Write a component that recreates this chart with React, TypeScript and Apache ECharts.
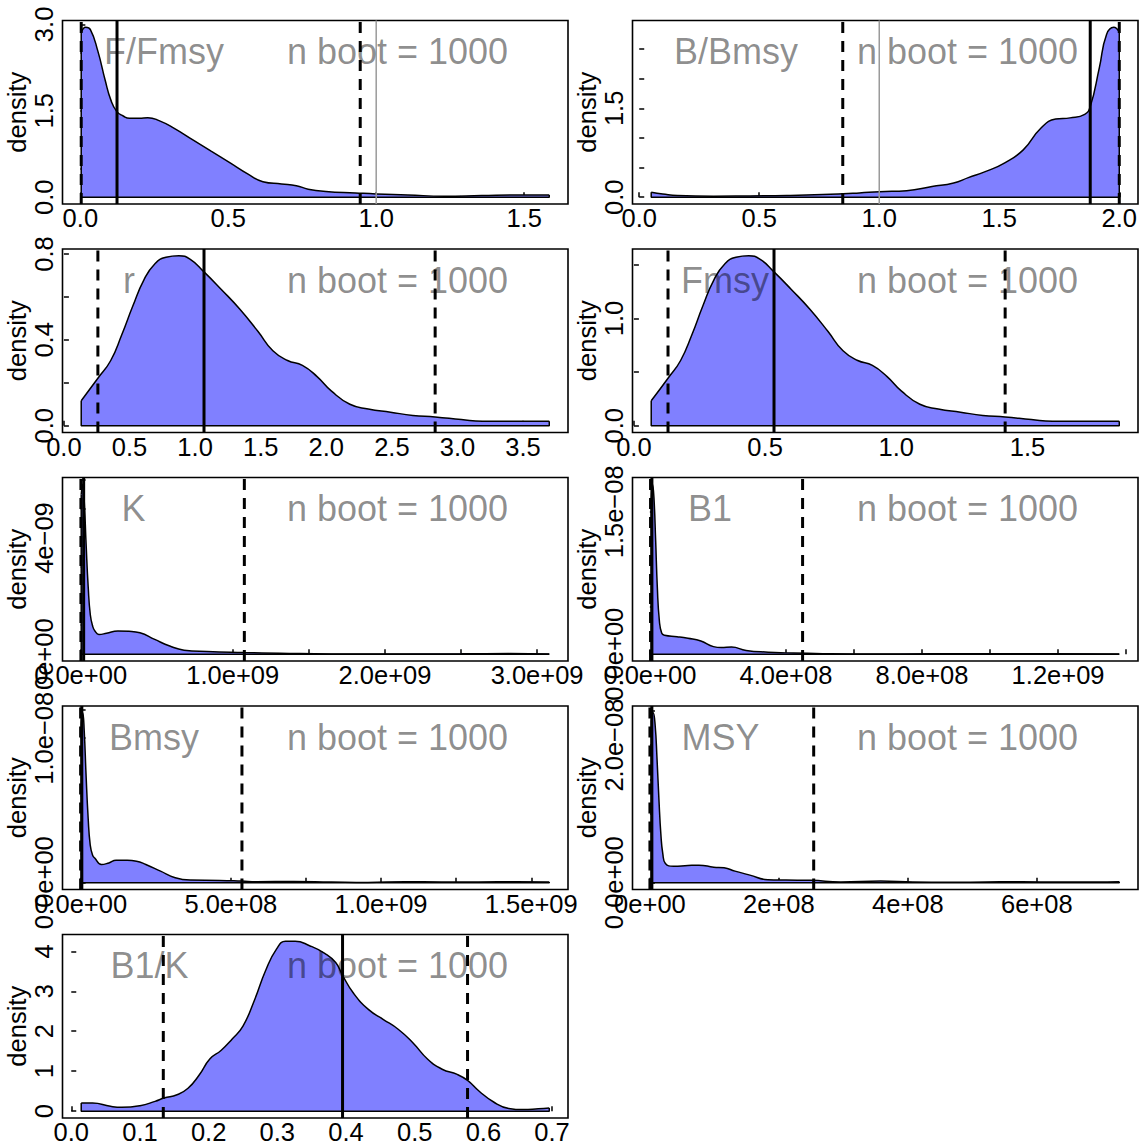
import React, { useEffect, useRef } from "react";
import * as echarts from "echarts";

const FONT = '"Liberation Sans", Arial, Helvetica, sans-serif';

// ---------- titles ----------
const panelNames = ["F/Fmsy", "B/Bmsy", "r", "Fmsy", "K", "B1", "Bmsy", "MSY", "B1/K"];
const bootLabel = "n boot = 1000";

// ---------- F/Fmsy ----------
const ffmsyX = [0.003, 0.018, 0.034, 0.059, 0.084, 0.103, 0.123, 0.145, 0.166, 0.2, 0.228, 0.266, 0.316, 0.379, 0.442, 0.505, 0.567, 0.617, 0.68, 0.73, 0.77, 0.83, 0.93, 1.0, 1.107, 1.23, 1.357, 1.48, 1.585];
const ffmsyY = [2.86, 2.95, 2.91, 2.54, 2.03, 1.69, 1.49, 1.41, 1.37, 1.37, 1.38, 1.33, 1.2, 1.0, 0.8, 0.6, 0.4, 0.27, 0.23, 0.2, 0.14, 0.1, 0.074, 0.057, 0.04, 0.017, 0.03, 0.04, 0.04];
const ffmsySolid = [0.124];
const ffmsyDashed = [0.003, 0.946];
const ffmsyRef = [1.0];
const ffmsyXTicks = [0, 0.5, 1, 1.5];
const ffmsyXLabVals = [0, 0.5, 1, 1.5];
const ffmsyXLabTexts = ["0.0", "0.5", "1.0", "1.5"];
const ffmsyYTicks = [0, 0.5, 1, 1.5, 2, 2.5, 3];
const ffmsyYLabVals = [0, 1.5, 3];
const ffmsyYLabTexts = ["0.0", "1.5", "3.0"];

// ---------- B/Bmsy ----------
const bbmsyX = [0.05, 0.098, 0.159, 0.31, 0.462, 0.614, 0.765, 0.917, 1.0, 1.114, 1.22, 1.31, 1.371, 1.447, 1.523, 1.6, 1.674, 1.735, 1.795, 1.856, 1.879, 1.917, 1.947, 1.977, 2.0];
const bbmsyY = [0.083, 0.055, 0.028, 0.017, 0.022, 0.028, 0.044, 0.072, 0.094, 0.11, 0.18, 0.24, 0.33, 0.44, 0.58, 0.8, 1.17, 1.32, 1.34, 1.4, 1.53, 2.19, 2.75, 2.87, 2.79];
const bbmsySolid = [1.879];
const bbmsyDashed = [0.848, 2.0];
const bbmsyRef = [1.0];
const bbmsyXTicks = [0, 0.5, 1, 1.5, 2];
const bbmsyXLabVals = [0, 0.5, 1, 1.5, 2];
const bbmsyXLabTexts = ["0.0", "0.5", "1.0", "1.5", "2.0"];
const bbmsyYTicks = [0, 0.5, 1, 1.5, 2, 2.5];
const bbmsyYLabVals = [0, 1.5];
const bbmsyYLabTexts = ["0.0", "1.5"];

// ---------- r ----------
const rX = [0.132, 0.259, 0.357, 0.441, 0.526, 0.61, 0.694, 0.778, 0.877, 0.961, 1.068, 1.2, 1.34, 1.48, 1.593, 1.705, 1.818, 1.93, 2.04, 2.18, 2.32, 2.49, 2.66, 2.83, 3.03, 3.19, 3.45, 3.7];
const rY = [0.116, 0.221, 0.304, 0.424, 0.559, 0.68, 0.755, 0.785, 0.792, 0.777, 0.717, 0.635, 0.544, 0.439, 0.349, 0.304, 0.281, 0.229, 0.161, 0.1, 0.078, 0.063, 0.048, 0.041, 0.029, 0.021, 0.021, 0.021];
const rSolid = [1.068];
const rDashed = [0.259, 2.83];
const rXTicks = [0, 0.5, 1, 1.5, 2, 2.5, 3, 3.5];
const rXLabVals = [0, 0.5, 1, 1.5, 2, 2.5, 3, 3.5];
const rXLabTexts = ["0.0", "0.5", "1.0", "1.5", "2.0", "2.5", "3.0", "3.5"];
const rYTicks = [0, 0.2, 0.4, 0.6, 0.8];
const rYLabVals = [0, 0.4, 0.8];
const rYLabTexts = ["0.0", "0.4", "0.8"];

// ---------- Fmsy ----------
const fmsyX = [0.066, 0.13, 0.178, 0.221, 0.263, 0.305, 0.347, 0.389, 0.438, 0.48, 0.534, 0.6, 0.67, 0.74, 0.797, 0.853, 0.909, 0.965, 1.02, 1.09, 1.16, 1.245, 1.33, 1.415, 1.515, 1.595, 1.725, 1.85];
const fmsyY = [0.232, 0.442, 0.608, 0.848, 1.118, 1.36, 1.51, 1.57, 1.584, 1.554, 1.434, 1.27, 1.088, 0.878, 0.698, 0.608, 0.562, 0.458, 0.322, 0.2, 0.156, 0.126, 0.096, 0.082, 0.058, 0.042, 0.042, 0.042];
const fmsySolid = [0.534];
const fmsyDashed = [0.13, 1.415];
const fmsyXTicks = [0, 0.5, 1, 1.5];
const fmsyXLabVals = [0, 0.5, 1, 1.5];
const fmsyXLabTexts = ["0.0", "0.5", "1.0", "1.5"];
const fmsyYTicks = [0, 0.5, 1, 1.5];
const fmsyYLabVals = [0, 1];
const fmsyYLabTexts = ["0.0", "1.0"];

// ---------- K ----------
const kX = [0.004e9, 0.014e9, 0.024e9, 0.036e9, 0.05e9, 0.064e9, 0.08e9, 0.094e9, 0.12e9, 0.17e9, 0.245e9, 0.318e9, 0.39e9, 0.487e9, 0.586e9, 0.68e9, 0.83e9, 1.07e9, 1.31e9, 1.65e9, 2.14e9, 2.5e9, 2.82e9, 3.08e9];
const kY = [5.5e-9, 5.85e-9, 5.25e-9, 3.8e-9, 2.3e-9, 1.35e-9, 0.95e-9, 0.8e-9, 0.68e-9, 0.72e-9, 0.8e-9, 0.79e-9, 0.74e-9, 0.51e-9, 0.28e-9, 0.14e-9, 0.09e-9, 0.057e-9, 0.034e-9, 0.011e-9, 0.011e-9, 0.012e-9, 0.02e-9, 0.01e-9];
const kSolid = [0.02e9];
const kDashed = [0.002e9, 1.076e9];
const kXTicks = [0, 0.5e9, 1e9, 1.5e9, 2e9, 2.5e9, 3e9];
const kXLabVals = [0, 1e9, 2e9, 3e9];
const kXLabTexts = ["0.0e+00", "1.0e+09", "2.0e+09", "3.0e+09"];
const kYTicks = [0, 1e-9, 2e-9, 3e-9, 4e-9, 5e-9, 6e-9];
const kYLabVals = [0, 4e-9];
const kYLabTexts = ["0e+00", "4e\u221209"];

// ---------- B1 ----------
const b1X = [0.04e8, 0.08e8, 0.12e8, 0.17e8, 0.22e8, 0.28e8, 0.35e8, 0.43e8, 0.8e8, 1.12e8, 1.5e8, 1.87e8, 2.1e8, 2.4e8, 2.83e8, 3.48e8, 4.0e8, 5.08e8, 6.68e8, 8.29e8, 10.4e8, 11.8e8, 13.8e8];
const b1Y = [1.6e-8, 1.79e-8, 1.65e-8, 1.2e-8, 0.7e-8, 0.35e-8, 0.22e-8, 0.2e-8, 0.185e-8, 0.168e-8, 0.14e-8, 0.08e-8, 0.07e-8, 0.075e-8, 0.04e-8, 0.021e-8, 0.014e-8, 0.006e-8, 0.002e-8, 0.004e-8, 0.004e-8, 0.006e-8, 0.003e-8];
const b1Solid = [0.06e8];
const b1Dashed = [0.02e8, 4.49e8];
const b1XTicks = [0, 2e8, 4e8, 6e8, 8e8, 10e8, 12e8, 14e8];
const b1XLabVals = [0, 4e8, 8e8, 12e8];
const b1XLabTexts = ["0.0e+00", "4.0e+08", "8.0e+08", "1.2e+09"];
const b1YTicks = [0, 0.5e-8, 1e-8, 1.5e-8];
const b1YLabVals = [0, 1.5e-8];
const b1YLabTexts = ["0.0e+00", "1.5e\u221208"];

// ---------- Bmsy ----------
const bmsyX = [0.02e8, 0.07e8, 0.12e8, 0.18e8, 0.25e8, 0.32e8, 0.4e8, 0.47e8, 0.69e8, 0.94e8, 1.18e8, 1.55e8, 1.86e8, 2.17e8, 2.66e8, 3.15e8, 3.65e8, 4.63e8, 5.37e8, 5.86e8, 7.09e8, 8.33e8, 9.56e8, 10.8e8, 12.0e8, 13.25e8, 14.5e8, 15.6e8];
const bmsyY = [1.1e-8, 1.176e-8, 1.05e-8, 0.75e-8, 0.45e-8, 0.26e-8, 0.19e-8, 0.171e-8, 0.126e-8, 0.137e-8, 0.155e-8, 0.155e-8, 0.149e-8, 0.126e-8, 0.08e-8, 0.034e-8, 0.018e-8, 0.016e-8, 0.011e-8, 0.007e-8, 0.009e-8, 0.005e-8, 0.002e-8, 0.007e-8, 0.005e-8, 0.005e-8, 0.007e-8, 0.005e-8];
const bmsySolid = [0.04e8];
const bmsyDashed = [0.0, 5.37e8];
const bmsyXTicks = [0, 2.5e8, 5e8, 7.5e8, 10e8, 12.5e8, 15e8];
const bmsyXLabVals = [0, 5e8, 10e8, 15e8];
const bmsyXLabTexts = ["0.0e+00", "5.0e+08", "1.0e+09", "1.5e+09"];
const bmsyYTicks = [0, 0.2e-8, 0.4e-8, 0.6e-8, 0.8e-8, 1.0e-8, 1.2e-8];
const bmsyYLabVals = [0, 1.0e-8];
const bmsyYLabTexts = ["0.0e+00", "1.0e\u221208"];

// ---------- MSY ----------
const msyX = [0.02e8, 0.05e8, 0.08e8, 0.11e8, 0.14e8, 0.17e8, 0.2e8, 0.24e8, 0.366e8, 0.59e8, 0.76e8, 0.99e8, 1.15e8, 1.32e8, 1.55e8, 1.83e8, 2.11e8, 2.5e8, 2.96e8, 3.58e8, 4.08e8, 4.65e8, 5.21e8, 5.77e8, 6.34e8, 6.9e8, 7.28e8];
const msyY = [2.35e-8, 2.47e-8, 2.3e-8, 1.8e-8, 1.2e-8, 0.7e-8, 0.42e-8, 0.28e-8, 0.24e-8, 0.25e-8, 0.255e-8, 0.226e-8, 0.216e-8, 0.168e-8, 0.11e-8, 0.043e-8, 0.038e-8, 0.034e-8, 0.01e-8, 0.024e-8, 0.01e-8, 0.005e-8, 0.01e-8, 0.014e-8, 0.01e-8, 0.01e-8, 0.014e-8];
const msySolid = [0.03e8];
const msyDashed = [0.0, 2.54e8];
const msyXTicks = [0, 2e8, 4e8, 6e8];
const msyXLabVals = [0, 2e8, 4e8, 6e8];
const msyXLabTexts = ["0e+00", "2e+08", "4e+08", "6e+08"];
const msyYTicks = [0, 0.5e-8, 1e-8, 1.5e-8, 2e-8, 2.5e-8];
const msyYLabVals = [0, 2e-8];
const msyYLabTexts = ["0.0e+00", "2.0e\u221208"];

// ---------- B1/K ----------
const b1kX = [0.0145, 0.031, 0.057, 0.0735, 0.1, 0.122, 0.135, 0.154, 0.17, 0.186, 0.202, 0.218, 0.234, 0.25, 0.267, 0.283, 0.299, 0.312, 0.326, 0.347, 0.369, 0.385, 0.395, 0.411, 0.433, 0.454, 0.476, 0.497, 0.519, 0.54, 0.562, 0.577, 0.594, 0.615, 0.637, 0.658, 0.68, 0.696];
const b1kY = [0.205, 0.205, 0.123, 0.098, 0.139, 0.246, 0.328, 0.41, 0.574, 0.9, 1.31, 1.52, 1.8, 2.13, 2.79, 3.52, 4.06, 4.25, 4.25, 4.14, 3.95, 3.72, 3.4, 2.95, 2.54, 2.3, 2.05, 1.72, 1.3, 1.05, 0.92, 0.77, 0.5, 0.23, 0.07, 0.04, 0.06, 0.08];
const b1kSolid = [0.395];
const b1kDashed = [0.134, 0.577];
const b1kXTicks = [0, 0.1, 0.2, 0.3, 0.4, 0.5, 0.6, 0.7];
const b1kXLabVals = [0, 0.1, 0.2, 0.3, 0.4, 0.5, 0.6, 0.7];
const b1kXLabTexts = ["0.0", "0.1", "0.2", "0.3", "0.4", "0.5", "0.6", "0.7"];
const b1kYTicks = [0, 1, 2, 3, 4];
const b1kYLabVals = [0, 1, 2, 3, 4];
const b1kYLabTexts = ["0", "1", "2", "3", "4"];

// ---------- layout (pixels) ----------
const COL_W = 570;
const ROW_H = 228.5;
const BOX_L = 62.5;
const BOX_T = 20.5;
const BOX_W = 505.5;
const BOX_H = 183.5;
const nameCenters = [101.5, 103.5, 66.5, 92.5, 71, 77.5, 91.5, 88, 87];
const BOOT_CENTER = 335;
const TEXT_MID = 31;

type Panel = {
  xs: number[]; ys: number[];
  solid: number[]; dashed: number[]; ref: number[];
  xTicks: number[]; xLabVals: number[]; xLabTexts: string[];
  yTicks: number[]; yLabVals: number[]; yLabTexts: string[];
};

const panels: Panel[] = [
  { xs: ffmsyX, ys: ffmsyY, solid: ffmsySolid, dashed: ffmsyDashed, ref: ffmsyRef, xTicks: ffmsyXTicks, xLabVals: ffmsyXLabVals, xLabTexts: ffmsyXLabTexts, yTicks: ffmsyYTicks, yLabVals: ffmsyYLabVals, yLabTexts: ffmsyYLabTexts },
  { xs: bbmsyX, ys: bbmsyY, solid: bbmsySolid, dashed: bbmsyDashed, ref: bbmsyRef, xTicks: bbmsyXTicks, xLabVals: bbmsyXLabVals, xLabTexts: bbmsyXLabTexts, yTicks: bbmsyYTicks, yLabVals: bbmsyYLabVals, yLabTexts: bbmsyYLabTexts },
  { xs: rX, ys: rY, solid: rSolid, dashed: rDashed, ref: [], xTicks: rXTicks, xLabVals: rXLabVals, xLabTexts: rXLabTexts, yTicks: rYTicks, yLabVals: rYLabVals, yLabTexts: rYLabTexts },
  { xs: fmsyX, ys: fmsyY, solid: fmsySolid, dashed: fmsyDashed, ref: [], xTicks: fmsyXTicks, xLabVals: fmsyXLabVals, xLabTexts: fmsyXLabTexts, yTicks: fmsyYTicks, yLabVals: fmsyYLabVals, yLabTexts: fmsyYLabTexts },
  { xs: kX, ys: kY, solid: kSolid, dashed: kDashed, ref: [], xTicks: kXTicks, xLabVals: kXLabVals, xLabTexts: kXLabTexts, yTicks: kYTicks, yLabVals: kYLabVals, yLabTexts: kYLabTexts },
  { xs: b1X, ys: b1Y, solid: b1Solid, dashed: b1Dashed, ref: [], xTicks: b1XTicks, xLabVals: b1XLabVals, xLabTexts: b1XLabTexts, yTicks: b1YTicks, yLabVals: b1YLabVals, yLabTexts: b1YLabTexts },
  { xs: bmsyX, ys: bmsyY, solid: bmsySolid, dashed: bmsyDashed, ref: [], xTicks: bmsyXTicks, xLabVals: bmsyXLabVals, xLabTexts: bmsyXLabTexts, yTicks: bmsyYTicks, yLabVals: bmsyYLabVals, yLabTexts: bmsyYLabTexts },
  { xs: msyX, ys: msyY, solid: msySolid, dashed: msyDashed, ref: [], xTicks: msyXTicks, xLabVals: msyXLabVals, xLabTexts: msyXLabTexts, yTicks: msyYTicks, yLabVals: msyYLabVals, yLabTexts: msyYLabTexts },
  { xs: b1kX, ys: b1kY, solid: b1kSolid, dashed: b1kDashed, ref: [], xTicks: b1kXTicks, xLabVals: b1kXLabVals, xLabTexts: b1kXLabTexts, yTicks: b1kYTicks, yLabVals: b1kYLabVals, yLabTexts: b1kYLabTexts },
];

function makeFormatter(vals: number[], texts: string[]) {
  const scale = Math.max(...vals.map((v) => Math.abs(v))) || 1;
  return (v: number) => {
    let best = -1;
    let bd = Infinity;
    vals.forEach((c, k) => {
      const d = Math.abs(c - v);
      if (d < bd) { bd = d; best = k; }
    });
    return best >= 0 && bd <= scale * 1e-6 ? texts[best] : "";
  };
}

function buildOption() {
  const grids: any[] = [];
  const xAxes: any[] = [];
  const yAxes: any[] = [];
  const series: any[] = [];
  const graphics: any[] = [];

  panels.forEach((p, i) => {
    const col = i % 2;
    const row = Math.floor(i / 2);
    const gl = col * COL_W + BOX_L;
    const gt = row * ROW_H + BOX_T;
    const xMinD = Math.min(...p.xs);
    const xMaxD = Math.max(...p.xs);
    const xr = xMaxD - xMinD;
    const xmin = xMinD - 0.04 * xr;
    const xmax = xMaxD + 0.04 * xr;
    const M = Math.max(...p.ys);
    const ymin = -0.04 * M;
    const ymax = 1.04 * M;

    grids.push({
      left: gl, top: gt, width: BOX_W, height: BOX_H, show: true,
      borderColor: "#000", borderWidth: 1.6, backgroundColor: "transparent",
      containLabel: false, outerBoundsMode: "none",
    });

    xAxes.push({
      type: "value", gridIndex: i, min: xmin, max: xmax,
      axisLine: { show: false }, splitLine: { show: false },
      axisTick: { show: true, inside: true, length: 5, lineStyle: { color: "#000", width: 1.5 }, customValues: p.xTicks },
      axisLabel: { show: true, customValues: p.xLabVals, formatter: makeFormatter(p.xLabVals, p.xLabTexts), color: "#000", fontSize: 25.5, fontFamily: FONT, margin: 1 },
    });
    yAxes.push({
      type: "value", gridIndex: i, min: ymin, max: ymax,
      name: "density", nameLocation: "middle", nameRotate: 90, nameGap: 28,
      nameTextStyle: { color: "#000", fontSize: 25.5, fontFamily: FONT },
      axisLine: { show: false }, splitLine: { show: false },
      axisTick: { show: true, inside: true, length: 5, lineStyle: { color: "#000", width: 1.5 }, customValues: p.yTicks },
      axisLabel: { show: true, rotate: 90, customValues: p.yLabVals, formatter: makeFormatter(p.yLabVals, p.yLabTexts), color: "#000", fontSize: 25.5, fontFamily: FONT, margin: 6 },
    });

    const curve = p.xs.map((x, k) => [x, p.ys[k]]);
    series.push({
      type: "line", xAxisIndex: i, yAxisIndex: i, data: curve, smooth: 0.5,
      showSymbol: false, symbol: "none", silent: true, z: 2,
      lineStyle: { color: "#000", width: 1.5 },
      areaStyle: { color: "#8080ff", opacity: 1 },
    });
    const n = p.xs.length;
    series.push({
      type: "line", xAxisIndex: i, yAxisIndex: i, showSymbol: false, symbol: "none", silent: true, z: 3,
      data: [[p.xs[0], p.ys[0]], [p.xs[0], 0], [p.xs[n - 1], 0], [p.xs[n - 1], p.ys[n - 1]]],
      lineStyle: { color: "#000", width: 1.5 },
    });
    p.ref.forEach((v) => {
      series.push({
        type: "line", xAxisIndex: i, yAxisIndex: i, showSymbol: false, symbol: "none", silent: true, z: 4,
        data: [[v, ymin], [v, ymax]], lineStyle: { color: "#9a9a9a", width: 1.5 },
      });
    });
    p.dashed.forEach((v) => {
      series.push({
        type: "line", xAxisIndex: i, yAxisIndex: i, showSymbol: false, symbol: "none", silent: true, z: 5,
        data: [[v, ymin], [v, ymax]], lineStyle: { color: "#000", width: 3, type: [11, 8] },
      });
    });
    p.solid.forEach((v) => {
      series.push({
        type: "line", xAxisIndex: i, yAxisIndex: i, showSymbol: false, symbol: "none", silent: true, z: 5,
        data: [[v, ymin], [v, ymax]], lineStyle: { color: "#000", width: 3 },
      });
    });

    graphics.push({
      type: "text", x: gl + nameCenters[i], y: gt + TEXT_MID, z: 100, silent: true,
      style: { text: panelNames[i], fill: "rgba(0,0,0,0.45)", fontSize: 36, fontFamily: FONT, align: "center", verticalAlign: "middle" },
    });
    graphics.push({
      type: "text", x: gl + BOOT_CENTER, y: gt + TEXT_MID, z: 100, silent: true,
      style: { text: bootLabel, fill: "rgba(0,0,0,0.45)", fontSize: 36, fontFamily: FONT, align: "center", verticalAlign: "middle" },
    });
  });

  return {
    animation: false,
    backgroundColor: "#fff",
    grid: grids,
    xAxis: xAxes,
    yAxis: yAxes,
    series,
    graphic: graphics,
  };
}

export default function App() {
  const ref = useRef<HTMLDivElement>(null);
  useEffect(() => {
    if (!ref.current) return;
    const chart = echarts.init(ref.current, null, { renderer: "svg" });
    chart.setOption(buildOption() as any);
    return () => chart.dispose();
  }, []);
  return (
    <div
      ref={ref}
      style={{ position: "absolute", left: 0, top: 0, width: 1140, height: 1145, background: "#fff" }}
    />
  );
}
